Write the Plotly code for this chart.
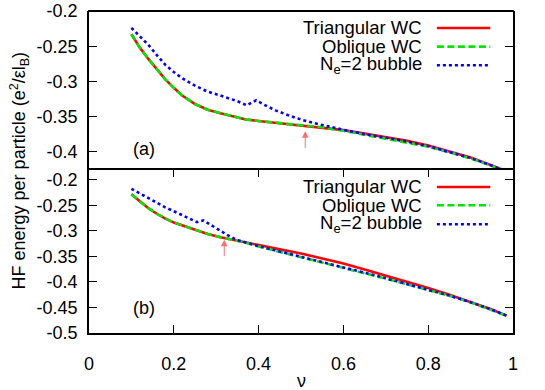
import plotly.graph_objects as go

# ---------------- data ----------------
nu_a = [0.10, 0.12, 0.14, 0.16, 0.18, 0.20, 0.22, 0.25, 0.28, 0.31, 0.34, 0.37,
        0.40, 0.45, 0.50, 0.55, 0.60, 0.65, 0.70, 0.75, 0.80, 0.85, 0.90, 0.95, 0.985]
tri_a = [-0.233, -0.252, -0.268, -0.283, -0.297, -0.309, -0.320, -0.332, -0.340, -0.345, -0.350, -0.354,
         -0.356, -0.359, -0.362, -0.365, -0.369, -0.374, -0.379, -0.384, -0.391, -0.399, -0.408, -0.419, -0.4275]
obl_a = [-0.233, -0.252, -0.268, -0.283, -0.297, -0.309, -0.320, -0.332, -0.340, -0.345, -0.350, -0.354,
         -0.356, -0.359, -0.362, -0.365, -0.370, -0.3755, -0.381, -0.386, -0.3925, -0.4005, -0.4092, -0.4198, -0.4278]
nu_bub_a = [0.10, 0.12, 0.14, 0.16, 0.18, 0.20, 0.22, 0.25, 0.28, 0.31, 0.33, 0.35, 0.372, 0.394, 0.42,
            0.44, 0.47, 0.50, 0.53, 0.56, 0.60, 0.65, 0.70, 0.75, 0.80, 0.85, 0.90, 0.95, 0.985]
bub_a = [-0.224, -0.2355, -0.248, -0.2625, -0.2765, -0.2865, -0.2955, -0.306, -0.3145, -0.320, -0.3235,
         -0.328, -0.3338, -0.3267, -0.3352, -0.341, -0.3478, -0.354, -0.359, -0.3635, -0.3685, -0.3748,
         -0.3802, -0.3852, -0.3918, -0.3998, -0.4086, -0.4194, -0.4276]

nu_b = [0.10, 0.12, 0.14, 0.16, 0.18, 0.20, 0.22, 0.25, 0.28, 0.31, 0.34, 0.37,
        0.40, 0.45, 0.50, 0.55, 0.60, 0.65, 0.70, 0.75, 0.80, 0.85, 0.90, 0.95, 0.985]
tri_b = [-0.2285, -0.2425, -0.2555, -0.2665, -0.276, -0.2835, -0.2895, -0.2985, -0.306, -0.3125, -0.3175, -0.3215,
         -0.3265, -0.3355, -0.3445, -0.354, -0.364, -0.3755, -0.3875, -0.3995, -0.412, -0.425, -0.439, -0.454, -0.466]
obl_b = [-0.2285, -0.2425, -0.2555, -0.2665, -0.276, -0.2835, -0.2895, -0.2985, -0.306, -0.3125, -0.3178, -0.3235,
         -0.3305, -0.341, -0.351, -0.3612, -0.3715, -0.3825, -0.3935, -0.4045, -0.4157, -0.4272, -0.440, -0.4545, -0.4662]
nu_bub_b = [0.10, 0.12, 0.14, 0.16, 0.18, 0.20, 0.22, 0.24, 0.255, 0.27, 0.29, 0.31, 0.33, 0.35, 0.37,
            0.40, 0.45, 0.50, 0.55, 0.60, 0.65, 0.70, 0.75, 0.80, 0.85, 0.90, 0.95, 0.985]
bub_b = [-0.2176, -0.227, -0.2365, -0.2455, -0.254, -0.2615, -0.269, -0.2765, -0.283, -0.2795, -0.290,
         -0.300, -0.310, -0.318, -0.3232, -0.330, -0.3405, -0.3505, -0.3607, -0.371, -0.382, -0.393,
         -0.404, -0.4152, -0.4268, -0.4397, -0.4543, -0.4661]

series_names = ["Triangular WC", "Oblique WC", "N<sub>e</sub>=2 bubble"]
x_ticks = [0, 0.2, 0.4, 0.6, 0.8, 1.0]
x_tick_labels = ["0", "0.2", "0.4", "0.6", "0.8", "1"]
ya_ticks = [-0.2, -0.25, -0.3, -0.35, -0.4]
ya_tick_labels = ["-0.2", "-0.25", "-0.3", "-0.35", "-0.4"]
yb_ticks = [-0.2, -0.25, -0.3, -0.35, -0.4, -0.45, -0.5]
yb_tick_labels = ["-0.2", "-0.25", "-0.3", "-0.35", "-0.4", "-0.45", "-0.5"]
arrow_a = [0.51, -0.3705, -0.3965]   # nu, head, tail
arrow_b = [0.319, -0.3175, -0.3525]

# ---------------- styles ----------------
FONT = "Liberation Sans, Arial, Helvetica, sans-serif"
FS = 18
KFS = 18.5
RED, GREEN, BLUE = "#ff0000", "#00e600", "#0000ff"
styles = [dict(color=RED, width=2.6, dash="solid"),
          dict(color=GREEN, width=2.6, dash="7px,3.5px"),
          dict(color=BLUE, width=2.6, dash="3px,3px")]

fig = go.Figure()
panels = [("x", "y", [(nu_a, tri_a), (nu_a, obl_a), (nu_bub_a, bub_a)]),
          ("x2", "y2", [(nu_b, tri_b), (nu_b, obl_b), (nu_bub_b, bub_b)])]
for xr, yr, sets in panels:
    for (xs, ys), st, nm in zip(sets, styles, series_names):
        fig.add_trace(go.Scatter(x=xs, y=ys, mode="lines", line=st, name=nm,
                                 showlegend=False, xaxis=xr, yaxis=yr))

split = 0.5075
axis_common = dict(showline=True, linecolor="black", linewidth=1.6, mirror="ticks",
                   ticks="inside", ticklen=8, tickwidth=1.4, tickcolor="black",
                   showgrid=False, zeroline=False, automargin=False,
                   ticklabeloverflow="allow",
                   tickfont=dict(family=FONT, size=FS, color="black"))
fig.update_layout(
    width=545, height=390,
    margin=dict(l=89, r=32, t=11, b=57),
    paper_bgcolor="white", plot_bgcolor="white",
    font=dict(family=FONT, size=FS, color="black"),
    xaxis=dict(domain=[0, 1], anchor="y", range=[0, 1], showline=False, ticks="",
               showticklabels=False, showgrid=False, zeroline=False, automargin=False),
    yaxis=dict(axis_common, domain=[split, 1], anchor="x", range=[-0.425, -0.2],
               tickvals=ya_ticks, ticktext=ya_tick_labels, ticklabelstandoff=6),
    xaxis2=dict(axis_common, domain=[0, 1], anchor="y2", range=[0, 1],
                tickvals=x_ticks, ticktext=x_tick_labels, ticklabelstandoff=14),
    yaxis2=dict(axis_common, domain=[0, split], anchor="x2", range=[-0.5, -0.18],
                tickvals=yb_ticks, ticktext=yb_tick_labels, ticklabelstandoff=6),
)

ann = []
# top border of panel (a) (paper-referenced so it is not clipped); the divider is panel (b)'s top border
shapes = [dict(type="line", xref="paper", yref="paper", x0=-0.002, x1=1.002, y0=1.0, y1=1.0,
               line=dict(color="black", width=2), layer="above")]
key_rows = {"y": [0.893, 0.7755, 0.6576], "y2": [0.8935, 0.7815, 0.6652]}
xaxis_of = {"y": "x", "y2": "x2"}
for yr, rows in key_rows.items():
    for nm, st, ry in zip(series_names, styles, rows):
        ann.append(dict(xref=xaxis_of[yr] + " domain", yref=yr + " domain", x=0.789, y=ry,
                        text=nm, showarrow=False, xanchor="right", yanchor="middle",
                        font=dict(family=FONT, size=KFS, color="black")))
        shapes.append(dict(type="line", xref=xaxis_of[yr] + " domain", yref=yr + " domain",
                           x0=0.8205, x1=0.9464, y0=ry, y1=ry, line=st))

ann.append(dict(xref="x domain", yref="y domain", x=0.1, y=0.128, text="(a)", showarrow=False,
                xanchor="left", yanchor="middle", font=dict(family=FONT, size=FS)))
ann.append(dict(xref="x2 domain", yref="y2 domain", x=0.1, y=0.151, text="(b)", showarrow=False,
                xanchor="left", yanchor="middle", font=dict(family=FONT, size=FS)))

for (ax_x, head, tail), xr, yr in [(arrow_a, "x", "y"), (arrow_b, "x2", "y2")]:
    ann.append(dict(x=ax_x, y=head, ax=ax_x, ay=tail, xref=xr, yref=yr, axref=xr, ayref=yr,
                    text="", showarrow=True, arrowhead=2, arrowsize=1.3, arrowwidth=1,
                    arrowcolor="rgba(255,60,60,0.75)"))

ann.append(dict(xref="paper", yref="paper", x=0.5, y=-0.15, text="ν", showarrow=False,
                xanchor="center", yanchor="middle", font=dict(family=FONT, size=FS)))
ann.append(dict(xref="paper", yref="paper", x=-0.165, y=0.505,
                text="HF energy per particle (e<sup>2</sup>/εl<sub>B</sub>)", showarrow=False,
                textangle=-90, xanchor="center", yanchor="middle", font=dict(family=FONT, size=FS)))

fig.update_layout(annotations=ann, shapes=shapes)
# remove the browser's default 8 px page margin so the figure sits at the window origin
fig.write_html("out.html", config={"displayModeBar": False},
               post_script="document.body.style.margin='0';")
